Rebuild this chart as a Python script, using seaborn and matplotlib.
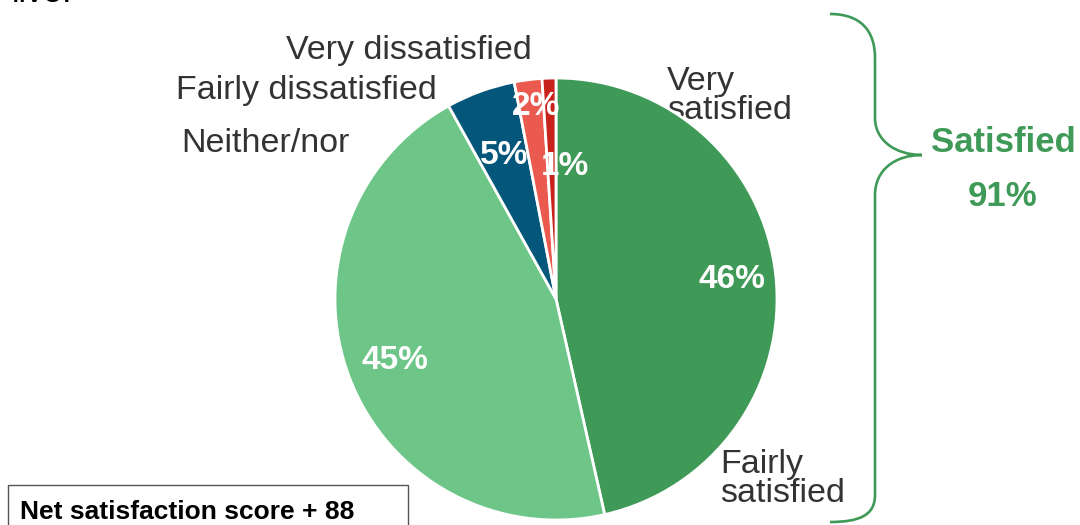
import numpy as np
import matplotlib
matplotlib.use("Agg")
import matplotlib.pyplot as plt
from matplotlib.path import Path
from matplotlib.patches import PathPatch, Rectangle
import seaborn as sns

# --- Dados ---
categorias = ["Very satisfied", "Fairly satisfied", "Neither/nor",
              "Fairly dissatisfied", "Very dissatisfied"]
valores = [46, 45, 5, 2, 1]
rotulos_pct = ["46%", "45%", "5%", "2%", "1%"]
cores = ["#3f9a57", "#6dc688", "#04577a", "#eb5a4f", "#c8231b"]
grupo_label = "Satisfied"
grupo_valor = "91%"
nota_box = "Net satisfaction score + 88"

sns.set_theme(style="white")
plt.rcParams['font.family'] = ['Liberation Sans', 'DejaVu Sans']

W, H = 1080, 525
fig = plt.figure(figsize=(W / 100, H / 100), dpi=100)

# overlay axes in pixel coordinates (y downward)
ov = fig.add_axes([0, 0, 1, 1])
ov.set_xlim(0, W)
ov.set_ylim(H, 0)
ov.axis("off")

# pie axes: center (556, 299), radius 221 px
cx, cy, r = 556, 299, 221
ax = fig.add_axes([(cx - r) / W, (H - cy - r) / H, 2 * r / W, 2 * r / H])
wedges, _ = ax.pie(valores, colors=cores, startangle=90, counterclock=False,
                   radius=1, wedgeprops=dict(edgecolor="white", linewidth=2))
ax.set_xlim(-1, 1)
ax.set_ylim(-1, 1)
ax.set_aspect("equal")
ax.axis("off")

# percentage labels inside the slices
raios = [0.80, 0.78, 0.69, 0.88, 0.60]
desloc_x = [0, 0, 0, 0.02, 0.06]
for w, txt, rr, dx in zip(wedges, rotulos_pct, raios, desloc_x):
    ang = np.deg2rad((w.theta1 + w.theta2) / 2)
    ax.text(rr * np.cos(ang) + dx, rr * np.sin(ang), txt, ha="center", va="center",
            color="white", fontsize=24, fontweight="bold")

# category labels outside
cor_txt = "#333333"
fs = 24.5
ov.text(667, 96, "Very\nsatisfied", ha="left", va="center", fontsize=fs,
        color=cor_txt, linespacing=0.93)
ov.text(720, 479, "Fairly\nsatisfied", ha="left", va="center", fontsize=fs,
        color=cor_txt, linespacing=0.93)
ov.text(350, 144, "Neither/nor", ha="right", va="center", fontsize=fs, color=cor_txt)
ov.text(437, 90, "Fairly dissatisfied", ha="right", va="center", fontsize=fs, color=cor_txt)
ov.text(532, 50, "Very dissatisfied", ha="right", va="center", fontsize=fs, color=cor_txt)
ov.text(12, 2, "live.", ha="left", va="baseline", fontsize=fs, color="black")

# curly brace
verde = "#3f9a57"
verts = [(830, 14), (860, 14), (875, 30), (875, 58),
         (875, 118),
         (875, 140), (895, 155), (922, 155),
         (895, 155), (875, 170), (875, 195),
         (875, 495),
         (875, 515), (860, 522), (830, 522)]
codes = [Path.MOVETO, Path.CURVE4, Path.CURVE4, Path.CURVE4,
         Path.LINETO,
         Path.CURVE4, Path.CURVE4, Path.CURVE4,
         Path.CURVE4, Path.CURVE4, Path.CURVE4,
         Path.LINETO,
         Path.CURVE4, Path.CURVE4, Path.CURVE4]
ov.add_patch(PathPatch(Path(verts, codes), fill=False, edgecolor=verde, lw=1.9))
ov.text(1003, 143, grupo_label, ha="center", va="center", fontsize=25,
        fontweight="bold", color=verde)
ov.text(1003, 196, grupo_valor, ha="center", va="center", fontsize=25,
        fontweight="bold", color=verde)

# net score box
ov.add_patch(Rectangle((8, 485), 400, 50, fill=False, edgecolor="#555555", lw=1))
ov.text(20, 512, nota_box, ha="left", va="center", fontsize=19,
        fontweight="bold", color="black")

fig.savefig("out.png", dpi=100)
plt.close(fig)
